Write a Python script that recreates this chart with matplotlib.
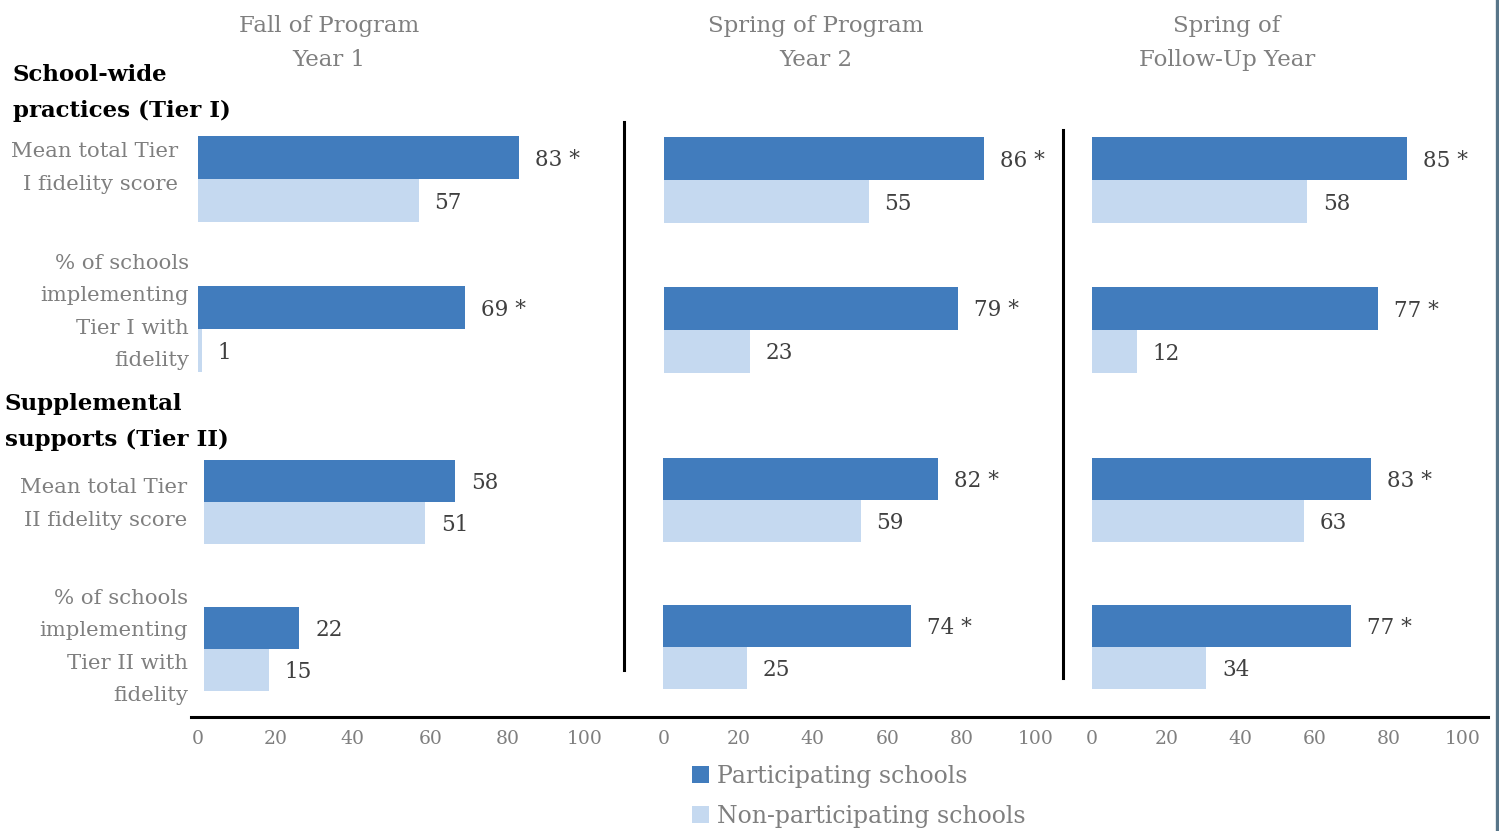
import matplotlib
matplotlib.use("Agg")
import matplotlib.pyplot as plt
from matplotlib.lines import Line2D

# ---- data ----
periods = ["Fall of Program\nYear 1", "Spring of Program\nYear 2", "Spring of\nFollow-Up Year"]
tier1_labels = ["Mean total Tier\nI fidelity score", "% of schools\nimplementing\nTier I with\nfidelity"]
tier2_labels = ["Mean total Tier\nII fidelity score", "% of schools\nimplementing\nTier II with\nfidelity"]

# participating / non-participating, per period: [mean score, % with fidelity]
tier1_part = [[83, 69], [86, 79], [85, 77]]
tier1_non = [[57, 1], [55, 23], [58, 12]]
tier2_part = [[58, 22], [82, 74], [83, 77]]
tier2_non = [[51, 15], [59, 25], [63, 34]]
# significance flags for participating bars
tier1_sig = [[True, True], [True, True], [True, True]]
tier2_sig = [[False, False], [True, True], [True, True]]

ticks = [0, 20, 40, 60, 80, 100]
series_names = ["Participating schools", "Non-participating schools"]

DARK = "#417cbd"
LIGHT = "#c5d9f0"
GRAY = "#7f7f7f"
VALGRAY = "#404040"
FONT = "DejaVu Serif"

W, H = 1499, 831
fig = plt.figure(figsize=(W / 100, H / 100), dpi=100)
plt.rcParams["font.family"] = FONT


def px_axes(x0, x1, y_top, y_bot):
    return fig.add_axes([x0 / W, 1 - y_bot / H, (x1 - x0) / W, (y_bot - y_top) / H])


def fx(x):
    return x / W


def fy(y):
    return 1 - y / H


# pixel layout of each sub-chart (x of 0, x of 100, centers of the two groups)
upper_geom = [(198, 585, 179, 329), (664, 1036, 180, 329.5), (1092, 1463, 180, 330)]
lower_geom = [(204, 637, 502, 649), (663, 998, 500, 647), (1092, 1428, 500, 647)]


def draw_block(ax, part, non, sig, h):
    ypos = [0, 1]
    ax.barh([y - h / 2 for y in ypos], part, height=h, color=DARK, label=series_names[0])
    ax.barh([y + h / 2 for y in ypos], non, height=h, color=LIGHT, label=series_names[1])
    for y, v, s in zip(ypos, part, sig):
        ax.annotate(f"{v} *" if s else f"{v}", (v, y - h / 2), xytext=(11.5, -1.5),
                    textcoords="offset points", va="center", ha="left",
                    fontsize=15.5, color=VALGRAY)
    for y, v in zip(ypos, non):
        ax.annotate(f"{v}", (v, y + h / 2), xytext=(11.5, -1.5),
                    textcoords="offset points", va="center", ha="left",
                    fontsize=15.5, color=VALGRAY)
    ax.set_xlim(0, 100)
    ax.set_ylim(1.5, -0.5)
    ax.axis("off")


legend_ax = None
for i in range(3):
    x0, x1, c0, c1 = upper_geom[i]
    sp = c1 - c0
    ax = px_axes(x0, x1, c0 - sp / 2, c1 + sp / 2)
    draw_block(ax, tier1_part[i], tier1_non[i], tier1_sig[i], 43 / sp)
    if i == 1:
        legend_ax = ax

    x0l, x1l, d0, d1 = lower_geom[i]
    sp2 = d1 - d0
    axl = px_axes(x0l, x1l, d0 - sp2 / 2, d1 + sp2 / 2)
    draw_block(axl, tier2_part[i], tier2_non[i], tier2_sig[i], 42 / sp2)

    # tick label strip
    axt = px_axes(x0, x1, 716, 717)
    axt.set_xlim(0, 100)
    axt.set_xticks(ticks)
    axt.set_xticklabels([str(t) for t in ticks], fontsize=13.5, color=GRAY)
    axt.tick_params(axis="x", length=0, pad=9)
    axt.set_yticks([])
    for s in axt.spines.values():
        s.set_visible(False)
    axt.patch.set_alpha(0)

# column titles
title_x = [329, 816, 1227]
for tx, t in zip(title_x, periods):
    fig.text(fx(tx), fy(43), t, ha="center", va="center", fontsize=16.5,
             color=GRAY, linespacing=1.75)

# section headers
fig.text(fx(13), fy(93), "School-wide\npractices (Tier I)", ha="left", va="center",
         fontsize=16.5, fontweight="bold", color="black", linespacing=1.8)
fig.text(fx(5), fy(422), "Supplemental\nsupports (Tier II)", ha="left", va="center",
         fontsize=16.5, fontweight="bold", color="black", linespacing=1.8)

# category labels
cat_pos = [(178, 168), (189, 312), (187, 504), (188, 647)]
for (cx, cy), lab in zip(cat_pos, tier1_labels + tier2_labels):
    fig.text(fx(cx), fy(cy), lab, ha="right", va="center", fontsize=15.3,
             color=GRAY, linespacing=1.9)

# separators and frame lines
fig.add_artist(Line2D([fx(624), fx(624)], [fy(122), fy(670)], color="black", lw=2.2))
fig.add_artist(Line2D([fx(1063), fx(1063)], [fy(130), fy(678)], color="black", lw=2.2))
fig.add_artist(Line2D([fx(191), fx(1488)], [fy(717), fy(717)], color="black", lw=2.2))
fig.add_artist(Line2D([fx(1497), fx(1497)], [0, 1], color="#587689", lw=2.4))

handles, labels = legend_ax.get_legend_handles_labels()
fig.legend(handles, labels, loc="upper left", bbox_to_anchor=(fx(692), fy(765)),
           frameon=False, fontsize=17, handlelength=0.7, handleheight=0.7,
           handletextpad=0.35, labelspacing=0.72, borderpad=0, borderaxespad=0,
           labelcolor=GRAY)

fig.savefig("out.png", dpi=100)
